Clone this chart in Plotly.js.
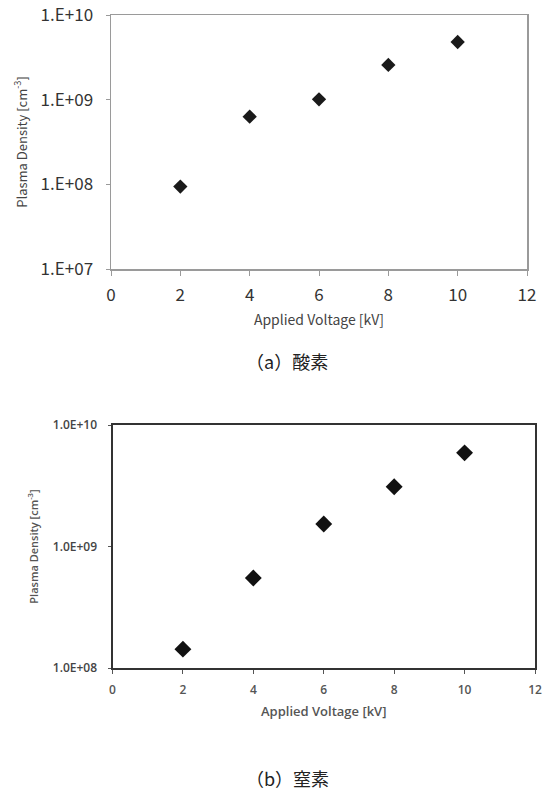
<!DOCTYPE html>
<html>
<head>
<meta charset="utf-8">
<script src="https://cdn.plot.ly/plotly-3.0.1.min.js"></script>
<style>html,body{margin:0;padding:0;background:#fff;}#chart{width:547px;height:792px;}</style>
</head>
<body>
<div id="chart"></div>
<script>
// Data
const voltageA = [2, 4, 6, 8, 10];
const densityOxygen = [9.4e7, 6.3e8, 1.01e9, 2.57e9, 4.8e9];
const voltageB = [2, 4, 6, 8, 10];
const densityNitrogen = [1.43e8, 5.5e8, 1.53e9, 3.1e9, 5.9e9];
const xTicks = [0, 2, 4, 6, 8, 10, 12];
const yTicksA = [1e7, 1e8, 1e9, 1e10];
const yTickTextA = ["1.E+07", "1.E+08", "1.E+09", "1.E+10"];
const yTicksB = [1e8, 1e9, 1e10];
const yTickTextB = ["1.0E+08", "1.0E+09", "1.0E+10"];
const xTitle = "Applied Voltage [kV]";
const yTitle = "Plasma Density [cm<sup>-3</sup>]";
const captionA = "（a）酸素";
const captionB = "（b）窒素";

const W = 547, H = 792;
const fontA = "Noto Sans CJK JP, DejaVu Sans, sans-serif";
const fontB = "Open Sans, Liberation Sans, sans-serif";

const traces = [
  {x: voltageA, y: densityOxygen, type: 'scatter', mode: 'markers', xaxis: 'x', yaxis: 'y',
   marker: {symbol: 'diamond', size: 11, color: '#1a1a1a'}, showlegend: false},
  {x: voltageB, y: densityNitrogen, type: 'scatter', mode: 'markers', xaxis: 'x2', yaxis: 'y2',
   marker: {symbol: 'diamond', size: 13, color: '#111'}, showlegend: false}
];

const layout = {
  width: W, height: H,
  margin: {l: 0, r: 0, t: 0, b: 0},
  paper_bgcolor: '#fff', plot_bgcolor: '#fff',
  showlegend: false,
  xaxis: {
    domain: [111/W, 527/W], anchor: 'y', range: [0, 12],
    tickvals: xTicks, showgrid: false, zeroline: false,
    showline: true, mirror: true, linecolor: '#9a9a9a', linewidth: 1.5,
    ticks: 'outside', ticklen: 5, tickcolor: '#9a9a9a', tickwidth: 1,
    ticklabelstandoff: 5,
    tickfont: {family: fontA, size: 17, color: '#333'},
    title: {text: xTitle, font: {family: fontA, size: 14, color: '#444'}, standoff: 10}
  },
  yaxis: {
    domain: [1 - 269/H, 1 - 15/H], anchor: 'x', type: 'log', range: [7, 10],
    tickvals: yTicksA, ticktext: yTickTextA, showgrid: false, zeroline: false,
    showline: true, mirror: true, linecolor: '#9a9a9a', linewidth: 1.5,
    ticks: 'outside', ticklen: 4, tickcolor: '#9a9a9a',
    ticklabelstandoff: 9,
    tickfont: {family: fontA, size: 17, color: '#333'},
    title: {text: yTitle, font: {family: fontA, size: 13, color: '#444'}, standoff: 10}
  },
  xaxis2: {
    domain: [112.5/W, 535/W], anchor: 'y2', range: [0, 12],
    tickvals: xTicks, showgrid: false, zeroline: false,
    showline: true, mirror: true, linecolor: '#333', linewidth: 2,
    ticks: 'outside', ticklen: 4, tickcolor: '#555',
    ticklabelstandoff: 6,
    tickfont: {family: fontB, size: 12, color: '#555', weight: 600},
    title: {text: xTitle, font: {family: fontB, size: 13, color: '#555', weight: 600}, standoff: 9}
  },
  yaxis2: {
    domain: [1 - 668/H, 1 - 425/H], anchor: 'x2', type: 'log', range: [8, 10],
    tickvals: yTicksB, ticktext: yTickTextB, showgrid: false, zeroline: false,
    showline: true, mirror: true, linecolor: '#333', linewidth: 2,
    ticks: 'outside', ticklen: 3, tickcolor: '#555',
    ticklabelstandoff: 8,
    tickfont: {family: fontB, size: 12, color: '#444', weight: 600},
    title: {text: yTitle, font: {family: fontB, size: 11, color: '#555', weight: 600}, standoff: 12}
  },
  annotations: [
    {text: captionA, xref: 'paper', yref: 'paper', x: 287/W, y: 1 - 361/H, showarrow: false,
     xanchor: 'center', yanchor: 'middle', font: {family: "Noto Sans CJK JP, serif", size: 18, color: '#222'}},
    {text: captionB, xref: 'paper', yref: 'paper', x: 287/W, y: 1 - 778/H, showarrow: false,
     xanchor: 'center', yanchor: 'middle', font: {family: "Noto Sans CJK JP, serif", size: 18, color: '#222'}}
  ]
};

Plotly.newPlot('chart', traces, layout, {displayModeBar: false, staticPlot: true});
</script>
</body>
</html>
